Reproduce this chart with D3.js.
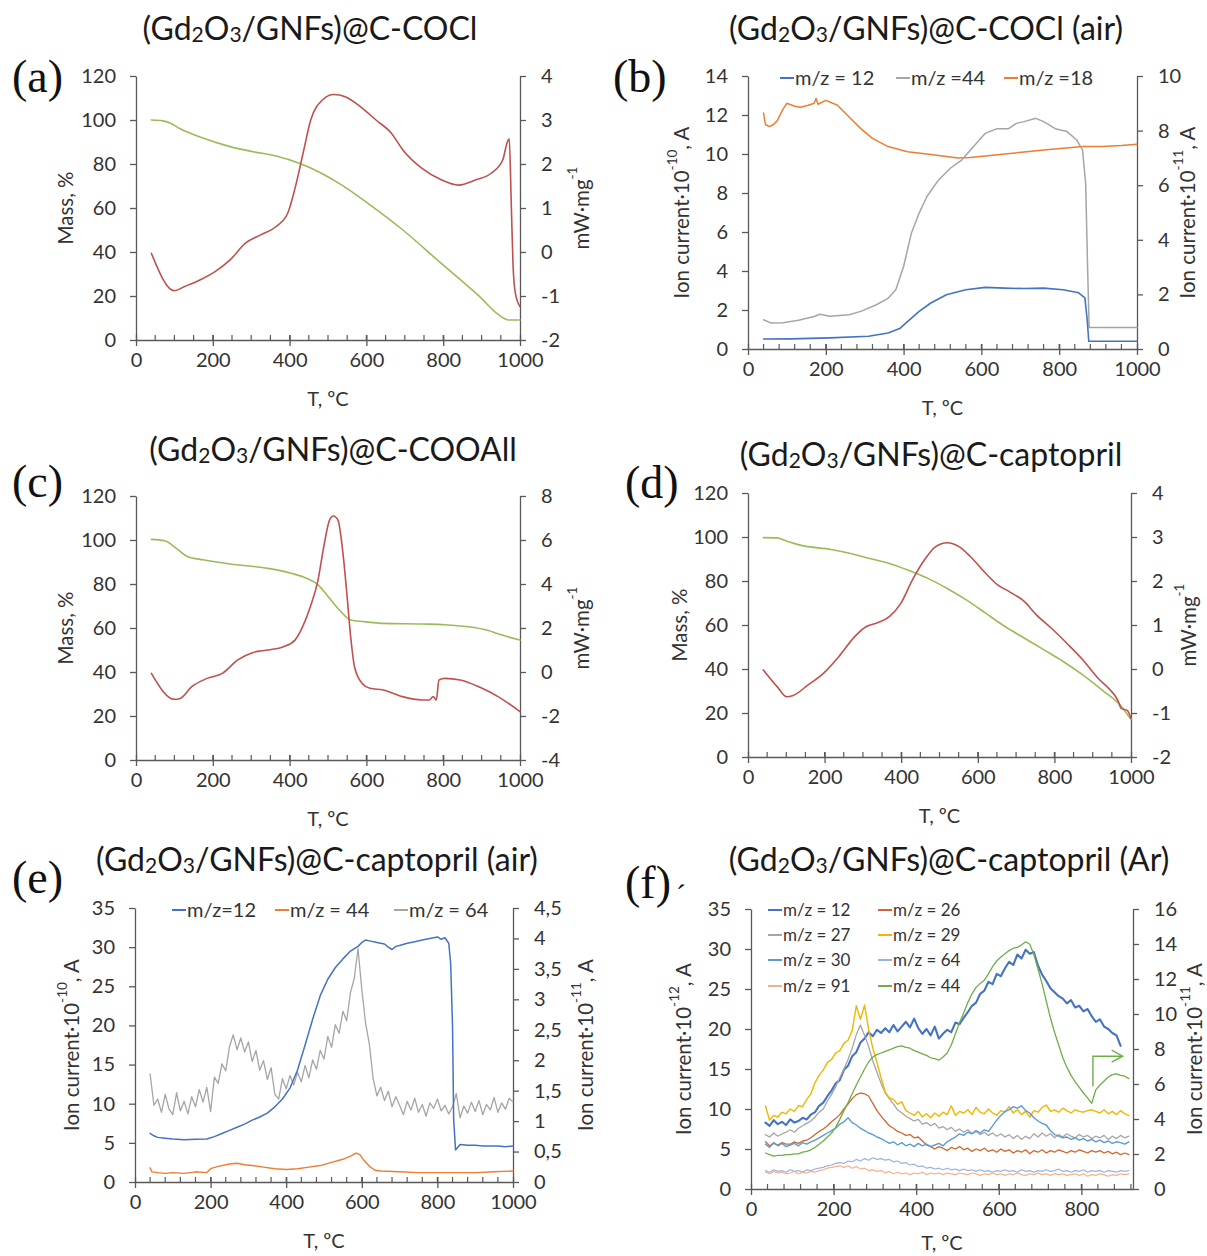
<!DOCTYPE html>
<html><head><meta charset="utf-8">
<script src="https://cdn.jsdelivr.net/npm/d3@7"></script>
<style>
body{margin:0;background:#fff;}
text{font-family:Lato,'Open Sans','Noto Sans',sans-serif;}
</style></head><body>
<script>
// ======================= DATA =======================
// common tick values
const tTicksMajor = [0, 200, 400, 600, 800, 1000];
const tTicksMajorF = [0, 200, 400, 600, 800];
const massTicks = [0, 20, 40, 60, 80, 100, 120];
const dscTicksA = [-2, -1, 0, 1, 2, 3, 4];
const dscTicksC = [-4, -2, 0, 2, 4, 6, 8];
const dscTicksD = [-2, -1, 0, 1, 2, 3, 4];
const ionTicksB = [0, 2, 4, 6, 8, 10, 12, 14];
const ionTicksBR = [0, 2, 4, 6, 8, 10];
const ionTicksE = [0, 5, 10, 15, 20, 25, 30, 35];
const ionTicksER = [0, 0.5, 1, 1.5, 2, 2.5, 3, 3.5, 4, 4.5];
const ionTicksF = [0, 5, 10, 15, 20, 25, 30, 35];
const ionTicksFR = [0, 2, 4, 6, 8, 10, 12, 14, 16];

// (a) (Gd2O3/GNFs)@C-COCl : TG (mass %) and DSC (mW/mg)
const aMassT = [40,70,90,115,165,245,305,365,425,475,535,605,695,795,895,945,970,1000];
const aMass  = [100,99.6,98.5,96,92.4,87.9,85.6,83.6,80.3,76.5,70.5,62,50,34.8,19.7,11.4,9.1,9.1];
const aDscT  = [40,100,125,165,205,245,285,325,365,395,415,435,455,485,515,545,585,625,665,695,745,795,840,885,925,955,967,972,977,982,988,1000];
const aDsc   = [-0.03,-0.88,-0.79,-0.64,-0.45,-0.18,0.2,0.39,0.58,0.88,1.48,2.24,3.0,3.45,3.58,3.53,3.3,3.0,2.7,2.32,1.9,1.64,1.52,1.64,1.79,2.09,2.5,2.57,1.18,-0.33,-0.94,-1.24];

// (b) (Gd2O3/GNFs)@C-COCl (air) : MS ion currents
const bMz12T = [40,110,210,310,360,390,410,440,470,510,560,610,660,710,760,810,850,866,872,876,1000];
const bMz12  = [0.51,0.52,0.57,0.65,0.82,1.05,1.4,1.93,2.36,2.78,3.04,3.16,3.12,3.1,3.12,3.04,2.88,2.62,1.5,0.4,0.4];
const bMz44T = [40,60,90,130,170,185,210,260,290,330,360,380,400,420,440,460,490,520,550,580,610,640,670,690,710,740,760,790,820,845,860,868,873,877,900,1000];
const bMz44  = [1.5,1.33,1.35,1.47,1.67,1.78,1.68,1.76,1.93,2.27,2.6,3.04,4.23,5.94,6.97,7.82,8.67,9.27,9.7,10.38,11.06,11.3,11.3,11.57,11.66,11.83,11.66,11.3,11.15,10.72,10.2,8.5,4.2,1.1,1.1,1.1];
const bMz18T = [40,45,55,65,75,90,100,120,135,155,170,175,180,200,230,260,290,320,360,410,460,510,540,570,610,660,710,760,810,860,910,960,1000];
const bMz18  = [12.1,11.5,11.4,11.5,11.7,12.3,12.6,12.45,12.4,12.5,12.6,12.85,12.55,12.75,12.5,11.9,11.3,10.8,10.38,10.12,10.0,9.87,9.8,9.82,9.9,10.0,10.1,10.2,10.3,10.38,10.38,10.43,10.5];

// (c) (Gd2O3/GNFs)@C-COOAll
const cMassT = [40,75,105,135,175,245,344,404,444,474,504,534,559,594,644,744,804,864,913,953,1000];
const cMass  = [100.3,99.7,96.2,92.4,91,89.1,87.1,84.9,82.6,79.6,73.5,67.4,63.6,62.9,62.1,61.8,61.5,60.6,59.1,56.8,54.5];
const cDscT  = [40,100,115,145,185,225,265,305,344,384,414,434,454,474,489,504,514,526,539,549,559,569,589,609,644,694,744,764,774,782,789,804,844,893,943,1000];
const cDsc   = [-0.06,-1.24,-1.2,-0.67,-0.29,-0.06,0.55,0.89,1.0,1.15,1.45,2.06,2.97,4.18,5.7,6.9,7.09,6.9,5.39,3.58,1.61,0.24,-0.52,-0.74,-0.82,-1.12,-1.27,-1.27,-1.12,-1.27,-0.36,-0.29,-0.36,-0.67,-1.12,-1.8];

// (d) (Gd2O3/GNFs)@C-captopril
const dMassT = [40,76,106,136,217,268,318,369,419,470,520,571,621,672,722,773,823,874,924,975,1000];
const dMass  = [99.7,99.6,97.8,96.3,94.3,92.5,90.2,88,84.9,81.2,76.6,71.3,65.3,59.2,54,48.7,43.4,37.3,30.5,23,17];
const dDscT  = [40,76,101,116,157,197,237,278,308,338,369,399,429,460,490,520,551,581,621,652,682,722,753,793,833,874,914,944,965,975,990,1000];
const dDsc   = [-0.02,-0.4,-0.63,-0.61,-0.36,-0.1,0.28,0.73,0.96,1.05,1.19,1.49,2.02,2.47,2.78,2.87,2.78,2.55,2.17,1.91,1.76,1.53,1.23,0.92,0.58,0.21,-0.21,-0.46,-0.7,-0.9,-0.94,-1.12];

// (e) (Gd2O3/GNFs)@C-captopril (air)
const eMz12T = [40,50,60,80,100,130,160,190,210,230,250,270,290,310,330,350,370,390,410,430,450,470,490,510,530,550,570,590,600,610,620,640,660,670,680,690,700,720,740,760,780,800,810,820,830,835,840,843,848,860,880,900,920,940,960,980,1000];
const eMz12  = [6.2,5.9,5.7,5.6,5.5,5.4,5.45,5.5,5.8,6.2,6.6,7.0,7.4,7.9,8.3,8.8,9.6,10.6,12.0,14.3,17.5,20.8,23.8,25.9,27.4,28.5,29.5,30.1,30.6,30.9,30.8,30.6,30.4,30.0,29.7,30.1,30.2,30.5,30.7,30.9,31.1,31.3,31.0,31.2,30.5,28.0,20.0,8.0,4.1,4.8,4.7,4.7,4.6,4.6,4.6,4.5,4.6];
const eMz44T = [40,45,60,80,100,130,160,190,200,220,250,270,290,310,340,370,400,430,460,490,520,550,570,585,595,605,620,635,650,700,750,800,850,900,950,1000];
const eMz44  = [1.8,1.3,1.2,1.1,1.2,1.1,1.3,1.2,1.7,2.0,2.3,2.4,2.2,2.1,1.9,1.7,1.6,1.7,1.9,2.1,2.5,2.9,3.3,3.7,3.5,2.8,2.0,1.5,1.4,1.3,1.2,1.2,1.2,1.2,1.3,1.4];
const eMz64T = d3.range(40, 1001, 10); // sampling grid 40..1000
const eMz64  = [
  13.8, 9.8,10.6, 8.9,11.2, 9.3, 8.6,11.4, 9.1,10.3,
   8.7,10.9, 9.6,11.8,10.2,12.1, 9.0,13.4,12.6,15.1,
  14.2,17.3,18.8,16.9,18.4,16.6,17.9,15.4,16.8,14.3,
  15.5,13.1,14.6,11.2,10.6,13.2,11.9,13.6,12.4,14.0,
  12.8,14.9,13.3,15.6,14.4,16.8,15.7,18.6,17.2,20.1,
  19.0,21.8,20.6,24.2,26.0,29.8,24.6,20.3,17.6,13.2,
  11.0,12.1,10.4,11.6, 9.6,10.9, 9.8, 8.6,10.3, 9.2,
  10.7, 8.9, 9.9, 8.4,10.1, 9.4,10.6, 9.1, 9.8, 8.7,
   9.6,11.3, 8.2, 9.7, 8.8,10.2, 9.0,10.4, 8.6, 9.9,
   9.2,10.8, 8.9,10.1, 9.3,10.7,10.2];

// (f) (Gd2O3/GNFs)@C-captopril (Ar)
const fT = d3.range(35, 925, 10); // sampling grid 35..915
const fMz12 = [
   8.3, 7.9, 8.6, 8.1, 8.4, 8.0, 8.7, 8.3, 8.5, 8.9,
   8.7, 9.3, 9.6,10.4,10.8,11.6,12.3,13.2,13.6,14.9,
  15.4,16.6,17.1,18.3,18.8,19.6,19.1,19.9,19.5,20.1,
  19.6,20.5,19.7,20.3,20.9,20.2,21.3,20.1,19.4,20.0,
  19.2,20.3,18.8,19.4,19.9,19.6,20.8,20.6,21.4,22.1,
  22.9,23.3,24.4,24.8,25.9,25.6,26.9,26.6,27.6,28.4,
  28.0,29.3,28.8,29.9,29.4,29.6,27.9,26.8,26.0,25.1,
  24.6,24.1,23.8,23.2,23.6,22.7,22.9,22.2,22.5,21.6,
  20.9,21.2,20.3,20.0,19.5,19.2,17.9,null,null];
const fMz26 = [
  5.9,5.4,5.7,5.5,5.8,5.6,5.6,5.9,5.7,6.0,
  6.1,6.4,6.8,7.2,7.5,7.9,8.4,8.8,9.3,10.0,
  10.6,11.3,11.8,12.0,11.9,11.6,10.7,9.8,9.1,8.5,
  7.9,7.6,7.2,7.0,6.7,6.8,6.4,6.5,6.0,5.5,
  5.3,5.0,5.3,5.1,4.8,5.2,5.0,5.3,4.9,5.1,
  4.7,5.0,4.8,5.1,4.7,4.9,4.6,5.0,4.7,4.9,
  4.5,4.8,4.6,4.9,4.4,4.8,4.6,4.9,4.5,4.8,
  4.6,4.9,4.7,4.5,4.8,4.6,4.9,4.7,4.5,4.8,
  4.6,4.8,4.5,4.7,4.4,4.6,4.3,4.5,4.3];
const fMz27 = [
  6.8,6.5,7.0,6.6,6.9,7.1,7.4,7.1,7.6,7.9,
  8.2,8.5,9.0,9.6,10.0,11.0,11.8,12.8,13.9,15.0,
  16.2,17.6,19.3,20.5,19.2,17.8,16.0,14.6,13.2,12.0,
  11.3,10.6,9.9,9.5,9.1,8.8,8.5,8.7,8.1,8.3,
  7.9,8.2,7.6,7.8,7.4,7.7,7.2,7.5,7.1,7.4,
  6.9,7.2,6.8,7.1,6.7,7.0,6.6,6.9,6.5,6.8,
  6.3,6.7,6.2,6.6,6.3,6.9,6.5,7.0,6.6,6.9,
  6.4,6.8,6.5,6.9,6.6,6.4,6.8,6.5,6.7,6.3,
  6.6,6.4,6.7,6.2,6.6,6.3,6.7,6.4,6.6];
const fMz29 = [
  10.4,8.6,9.2,9.0,9.6,9.4,10.0,9.7,10.4,10.3,
  11.2,11.9,13.3,14.2,14.9,15.8,16.2,17.0,17.3,18.2,
  18.6,19.8,22.9,21.2,23.0,19.9,17.6,15.8,13.9,12.1,
  11.4,11.2,10.6,10.9,9.8,9.5,9.2,9.7,9.0,9.4,
  8.9,9.5,9.1,9.6,9.3,10.4,9.2,9.7,9.5,9.9,
  9.3,10.2,9.6,9.4,10.0,9.5,9.2,9.8,9.6,10.3,
  9.5,9.9,9.3,9.7,9.0,9.8,9.6,10.2,10.5,9.7,
  9.9,9.6,10.1,9.8,9.5,9.9,9.7,9.6,9.8,9.9,
  9.7,9.5,9.9,9.4,9.7,9.3,9.8,9.4,9.2];
const fMz30 = [
  5.6,5.2,5.8,5.4,5.7,5.3,5.5,5.7,5.4,5.8,
  5.6,5.9,6.1,6.4,6.7,7.0,7.3,7.6,8.1,8.4,
  8.9,8.3,8.0,7.6,7.3,7.0,6.8,6.5,6.3,6.0,
  5.7,5.9,5.5,5.8,5.4,5.6,5.3,5.7,5.4,5.6,
  5.3,5.5,5.7,5.4,5.9,6.2,6.5,6.9,6.7,7.1,
  6.9,7.3,7.0,7.4,7.2,7.9,8.6,9.2,9.7,9.9,
  10.3,10.1,10.4,9.8,9.5,8.9,8.5,8.2,8.0,7.3,
  6.8,6.6,6.4,6.5,6.2,6.4,6.1,6.3,6.0,6.2,
  5.9,6.1,5.8,6.0,5.7,5.9,5.8,5.6,5.9];
const fMz64 = [
  2.3,2.1,2.4,2.2,2.3,2.1,2.4,2.2,2.3,2.1,
  2.4,2.3,2.5,2.6,2.7,2.9,3.0,3.2,3.3,3.2,
  3.5,3.4,3.7,3.5,3.8,3.6,3.9,3.7,3.8,3.6,
  3.7,3.4,3.5,3.2,3.3,3.0,3.1,2.8,2.9,2.6,
  2.7,2.5,2.6,2.4,2.6,2.4,2.5,2.3,2.5,2.3,
  2.4,2.2,2.4,2.2,2.3,2.1,2.3,2.2,2.4,2.2,
  2.3,2.1,2.4,2.2,2.3,2.1,2.3,2.2,2.4,2.2,
  2.3,2.5,2.2,2.3,2.1,2.3,2.2,2.4,2.1,2.3,
  2.2,2.3,2.1,2.3,2.2,2.1,2.3,2.2,2.3];
const fMz91 = [
  2.1,1.9,2.2,2.0,2.1,1.9,2.0,2.2,1.9,2.1,
  2.0,2.2,2.1,2.3,2.4,2.6,2.7,2.8,2.9,2.7,
  2.9,2.6,2.8,2.5,2.6,2.3,2.4,2.2,2.3,2.0,
  2.2,1.9,2.1,1.9,2.0,1.8,2.0,1.9,2.1,1.8,
  2.0,1.9,2.0,1.8,2.0,1.9,1.8,2.0,1.9,1.8,
  2.0,1.9,1.7,1.9,1.8,2.0,1.8,1.9,1.7,1.9,
  1.8,2.0,1.8,1.7,1.9,1.8,2.0,1.8,1.9,1.7,
  1.9,1.8,1.9,1.7,1.8,1.9,1.7,1.9,1.6,1.8,
  1.7,1.9,1.8,1.6,1.8,1.7,1.9,1.8,1.9];
const fMz44 = [
  4.5,4.3,4.1,4.2,4.2,4.3,4.3,4.4,4.4,4.6,
  4.7,4.9,5.2,5.6,6.0,6.5,7.0,7.7,8.7,9.8,
  10.8,11.9,13.0,14.0,15.0,15.9,16.5,16.8,17.0,17.2,
  17.4,17.6,17.8,17.9,17.7,17.6,17.3,17.1,16.9,16.7,
  16.4,16.3,16.1,16.5,17.0,18.0,19.4,20.8,22.0,23.3,
  24.4,25.2,25.7,26.1,26.9,27.8,28.5,29.0,29.4,29.8,
  30.1,30.2,30.5,30.9,30.6,29.3,27.5,25.6,23.5,21.4,
  19.6,18.0,16.4,15.2,14.2,13.4,12.7,12.0,11.4,10.7,
  12.4,13.0,13.5,14.0,14.3,14.4,14.2,14.1,13.8];
// arrow annotation in (f) (T, left-axis units)
const fArrow = [[828, 12.8], [828, 16.6], [900, 16.6]];

// ======================= DRAWING =======================
const W = 1207, H = 1256;
const AXIS = '#595959', TICKTXT = '#333', TITLE = '#1a1a1a';
const svg = d3.select('body').append('svg').attr('width', W).attr('height', H).style('display', 'block');
svg.append('rect').attr('width', W).attr('height', H).attr('fill', '#fff');

function supLabel(g, x, y, rot, parts, size) {
  const t = g.append('text').attr('transform', `translate(${x},${y}) rotate(${rot})`)
    .attr('text-anchor', 'middle').attr('dominant-baseline', 'central')
    .attr('fill', TICKTXT).style('font-size', size + 'px');
  parts.forEach(p => {
    const s = t.append('tspan').text(p.t);
    if (p.sup) s.attr('dy', -size * 0.42).style('font-size', (size * 0.66) + 'px');
    if (p.after) s.attr('dy', size * 0.42);
  });
}

function panel(p) {
  const g = svg.append('g');
  const x = d3.scaleLinear().domain(p.xDomain).range([p.x0, p.x1]);
  const yL = d3.scaleLinear().domain(p.yL).range([p.yBot, p.yTop]);
  const yR = d3.scaleLinear().domain(p.yR).range([p.yBot, p.yTop]);

  // minor x ticks (inside)
  const minor = d3.range(p.minorStep, p.xDomain[1] + 0.1, p.minorStep).filter(v => v < p.xDomain[1] - 1);
  g.append('g').selectAll('line').data(minor).join('line')
    .attr('x1', d => x(d)).attr('x2', d => x(d)).attr('y1', p.yBot).attr('y2', p.yBot - 5)
    .attr('stroke', AXIS).attr('stroke-width', 1.2);

  const fmt = p.rFmt || (d => String(d));
  const style = sel => {
    sel.selectAll('path,line').attr('stroke', AXIS).attr('stroke-width', 1.3);
    sel.selectAll('text').attr('fill', TICKTXT);
    sel.attr('font-size', 20).attr('font-family', "Lato,'Open Sans',sans-serif");
  };
  g.append('g').attr('transform', `translate(0,${p.yBot})`)
    .call(d3.axisBottom(x).tickValues(p.xTicks).tickFormat(d => String(d)).tickSizeInner(6).tickSizeOuter(0).tickPadding(7))
    .call(style)
    .call(a => a.selectAll('.tick line').attr('y1', -5));
  g.append('g').attr('transform', `translate(${p.x0},0)`)
    .call(d3.axisLeft(yL).tickValues(p.lTicks).tickFormat(d => String(d)).tickSizeInner(6).tickSizeOuter(0).tickPadding(14))
    .call(style);
  g.append('g').attr('transform', `translate(${p.x1},0)`)
    .call(d3.axisRight(yR).tickValues(p.rTicks).tickFormat(fmt).tickSizeInner(6).tickSizeOuter(0).tickPadding(15))
    .call(style);

  // series
  p.series.forEach(s => {
    const sc = s.axis === 'R' ? yR : yL;
    const pts = s.t.map((t, i) => [t, s.v[i]]).filter(d => d[1] !== undefined);
    const line = d3.line().defined(d => d[1] != null).x(d => x(d[0])).y(d => sc(d[1]))
      .curve(s.smooth ? d3.curveMonotoneX : d3.curveLinear);
    g.append('path').datum(pts).attr('d', line).attr('fill', 'none')
      .attr('stroke', s.color).attr('stroke-width', s.w || 1.4)
      .attr('stroke-linejoin', 'round').attr('stroke-linecap', 'round');
  });

  // titles
  const tt = g.append('text').attr('x', p.title[0]).attr('y', p.title[1]).attr('text-anchor', 'middle')
    .attr('fill', TITLE).style('font-size', '32px');
  tt.append('tspan').text('(Gd');
  tt.append('tspan').attr('dy', 1.5).style('font-size', '21px').text('2');
  tt.append('tspan').attr('dy', -1.5).text('O');
  tt.append('tspan').attr('dy', 1.5).style('font-size', '21px').text('3');
  tt.append('tspan').attr('dy', -1.5).text('/GNFs)@C-' + p.name);

  g.append('text').attr('x', p.tag[0]).attr('y', p.tag[1]).attr('fill', '#111')
    .style('font-family', "'Liberation Serif','DejaVu Serif',serif").style('font-size', '46px').text(p.tagText);

  // axis titles
  g.append('text').attr('x', (p.x0 + p.x1) / 2).attr('y', p.xLabY || (p.yBot + 66)).attr('text-anchor', 'middle')
    .attr('fill', TICKTXT).style('font-size', '20px').text('T, ºC');
  supLabel(g, p.lLab, (p.yTop + p.yBot) / 2, -90, p.lText, 20.5);
  supLabel(g, p.rLab, (p.yTop + p.yBot) / 2, -90, p.rText, 20.5);

  // legend
  if (p.legend) p.legend.forEach(l => {
    g.append('line').attr('x1', l.x).attr('x2', l.x + 14).attr('y1', l.y).attr('y2', l.y)
      .attr('stroke', l.color).attr('stroke-width', 2);
    g.append('text').attr('x', l.x + 15).attr('y', l.y).attr('dy', '0.36em').attr('fill', TICKTXT)
      .style('font-size', (l.size || 20) + 'px').text(l.label);
  });
  return { g, x, yL, yR };
}

const massLab = [{ t: 'Mass, %' }];
const dscLab = [{ t: 'mW·mg' }, { t: '-1', sup: true }];
const ion10 = [{ t: 'Ion current·10' }, { t: '-10', sup: true }, { t: ', A', after: true }];
const ion11 = [{ t: 'Ion current·10' }, { t: '-11', sup: true }, { t: ', A', after: true }];
const ion12 = [{ t: 'Ion current·10' }, { t: '-12', sup: true }, { t: ', A', after: true }];

const GREEN = '#9bbb59', RED = '#c0504d';
const BLUE = '#4472c4', ORANGE = '#ed7d31', GRAY = '#a5a5a5';

// (a)
panel({
  name: 'COCl', title: [310, 40], tag: [12, 92], tagText: '(a)',
  x0: 136, x1: 520, yTop: 76, yBot: 340, xDomain: [0, 1000], yL: [0, 120], yR: [-2, 4],
  xTicks: tTicksMajor, minorStep: 50, lTicks: massTicks, rTicks: dscTicksA,
  lLab: 65, rLab: 581, lText: massLab, rText: dscLab,
  series: [
    { t: aMassT, v: aMass, color: GREEN, w: 1.6, smooth: true },
    { t: aDscT, v: aDsc, axis: 'R', color: RED, w: 1.6, smooth: true }
  ]
});

// (b)
panel({
  name: 'COCl (air)', title: [926, 40], tag: [613, 92], tagText: '(b)',
  x0: 748, x1: 1137, yTop: 76, yBot: 349, xDomain: [0, 1000], yL: [0, 14], yR: [0, 10],
  xTicks: tTicksMajor, minorStep: 40, lTicks: ionTicksB, rTicks: ionTicksBR,
  lLab: 681, rLab: 1187, lText: ion10, rText: ion11,
  series: [
    { t: bMz18T, v: bMz18, color: ORANGE, w: 1.5 },
    { t: bMz44T, v: bMz44, color: GRAY, w: 1.5 },
    { t: bMz12T, v: bMz12, color: BLUE, w: 1.6 }
  ],
  legend: [
    { x: 780, y: 78, color: BLUE, label: 'm/z = 12' },
    { x: 896, y: 78, color: GRAY, label: 'm/z =44' },
    { x: 1004, y: 78, color: ORANGE, label: 'm/z =18' }
  ]
});

// (c)
panel({
  name: 'COOAll', title: [333, 461], tag: [12, 497], tagText: '(c)',
  x0: 136, x1: 520, yTop: 496, yBot: 760, xDomain: [0, 1000], yL: [0, 120], yR: [-4, 8],
  xTicks: tTicksMajor, minorStep: 50, lTicks: massTicks, rTicks: dscTicksC,
  lLab: 65, rLab: 581, lText: massLab, rText: dscLab,
  series: [
    { t: cMassT, v: cMass, color: GREEN, w: 1.6, smooth: true },
    { t: cDscT, v: cDsc, axis: 'R', color: RED, w: 1.6, smooth: true }
  ]
});

// (d)
panel({
  name: 'captopril', title: [931, 466], tag: [625, 498], tagText: '(d)',
  x0: 748, x1: 1131, yTop: 493, yBot: 757, xDomain: [0, 1000], yL: [0, 120], yR: [-2, 4],
  xTicks: tTicksMajor, minorStep: 50, lTicks: massTicks, rTicks: dscTicksD,
  lLab: 679, rLab: 1188, lText: massLab, rText: dscLab,
  series: [
    { t: dMassT, v: dMass, color: GREEN, w: 1.6, smooth: true },
    { t: dDscT, v: dDsc, axis: 'R', color: RED, w: 1.6, smooth: true }
  ]
});

// (e)
panel({
  name: 'captopril (air)', title: [317, 871], tag: [12, 893], tagText: '(e)',
  x0: 135, x1: 513, yTop: 908, yBot: 1182, xDomain: [0, 1000], yL: [0, 35], yR: [0, 4.5],
  xTicks: tTicksMajor, minorStep: 40, lTicks: ionTicksE, rTicks: ionTicksER,
  rFmt: d => String(d).replace('.', ','),
  lLab: 71, rLab: 585, lText: ion10, rText: ion11,
  series: [
    { t: eMz64T, v: eMz64, color: GRAY, w: 1.3 },
    { t: eMz44T, v: eMz44, color: ORANGE, w: 1.4 },
    { t: eMz12T, v: eMz12, color: BLUE, w: 1.5 }
  ],
  legend: [
    { x: 172, y: 910, color: BLUE, label: 'm/z=12' },
    { x: 275, y: 910, color: ORANGE, label: 'm/z = 44' },
    { x: 394, y: 910, color: GRAY, label: 'm/z = 64' }
  ]
});

// (f)
const F = panel({
  name: 'captopril (Ar)', title: [949, 871], tag: [625, 898], tagText: '(f)',
  x0: 751, x1: 1133, yTop: 909, yBot: 1189, xDomain: [0, 925], yL: [0, 35], yR: [0, 16],
  xTicks: tTicksMajorF, minorStep: 40, lTicks: ionTicksF, rTicks: ionTicksFR,
  lLab: 683, rLab: 1194, lText: ion12, rText: ion11, xLabY: 1250,
  series: [
    { t: fT, v: fMz12, color: '#4472c4', w: 2.1 },
    { t: fT, v: fMz26, color: '#d2662a', w: 1.3 },
    { t: fT, v: fMz27, color: '#a5a5a5', w: 1.3 },
    { t: fT, v: fMz29, color: '#f2b600', w: 1.4 },
    { t: fT, v: fMz30, color: '#5b9bd5', w: 1.4 },
    { t: fT, v: fMz64, color: '#9db1e0', w: 1.2 },
    { t: fT, v: fMz91, color: '#f4b08c', w: 1.2 },
    { t: fT, v: fMz44, color: '#70ad47', w: 1.3 }
  ],
  legend: [
    { x: 768, y: 910, color: '#4472c4', label: 'm/z = 12', size: 17 },
    { x: 878, y: 910, color: '#d2662a', label: 'm/z = 26', size: 17 },
    { x: 768, y: 935, color: '#a5a5a5', label: 'm/z = 27', size: 17 },
    { x: 878, y: 935, color: '#f2b600', label: 'm/z = 29', size: 17 },
    { x: 768, y: 960, color: '#5b9bd5', label: 'm/z = 30', size: 17 },
    { x: 878, y: 960, color: '#9db1e0', label: 'm/z = 64', size: 17 },
    { x: 768, y: 986, color: '#f4b08c', label: 'm/z = 91', size: 17 },
    { x: 878, y: 986, color: '#70ad47', label: 'm/z = 44', size: 17 }
  ]
});
// arrow annotation
F.g.append('path').attr('d', d3.line().x(d => F.x(d[0])).y(d => F.yL(d[1]))(fArrow))
  .attr('fill', 'none').attr('stroke', '#70ad47').attr('stroke-width', 1.4);
{
  const tip = fArrow[fArrow.length - 1];
  const tx = F.x(tip[0]), ty = F.yL(tip[1]);
  F.g.append('path').attr('d', `M${tx - 11},${ty - 6} L${tx},${ty} L${tx - 11},${ty + 6}`)
    .attr('fill', 'none').attr('stroke', '#70ad47').attr('stroke-width', 1.4);
}
svg.append('text').attr('x', 676).attr('y', 905).attr('fill', '#111')
  .style('font-family', "'Liberation Serif',serif").style('font-size', '30px').text('´');
</script></body></html>
